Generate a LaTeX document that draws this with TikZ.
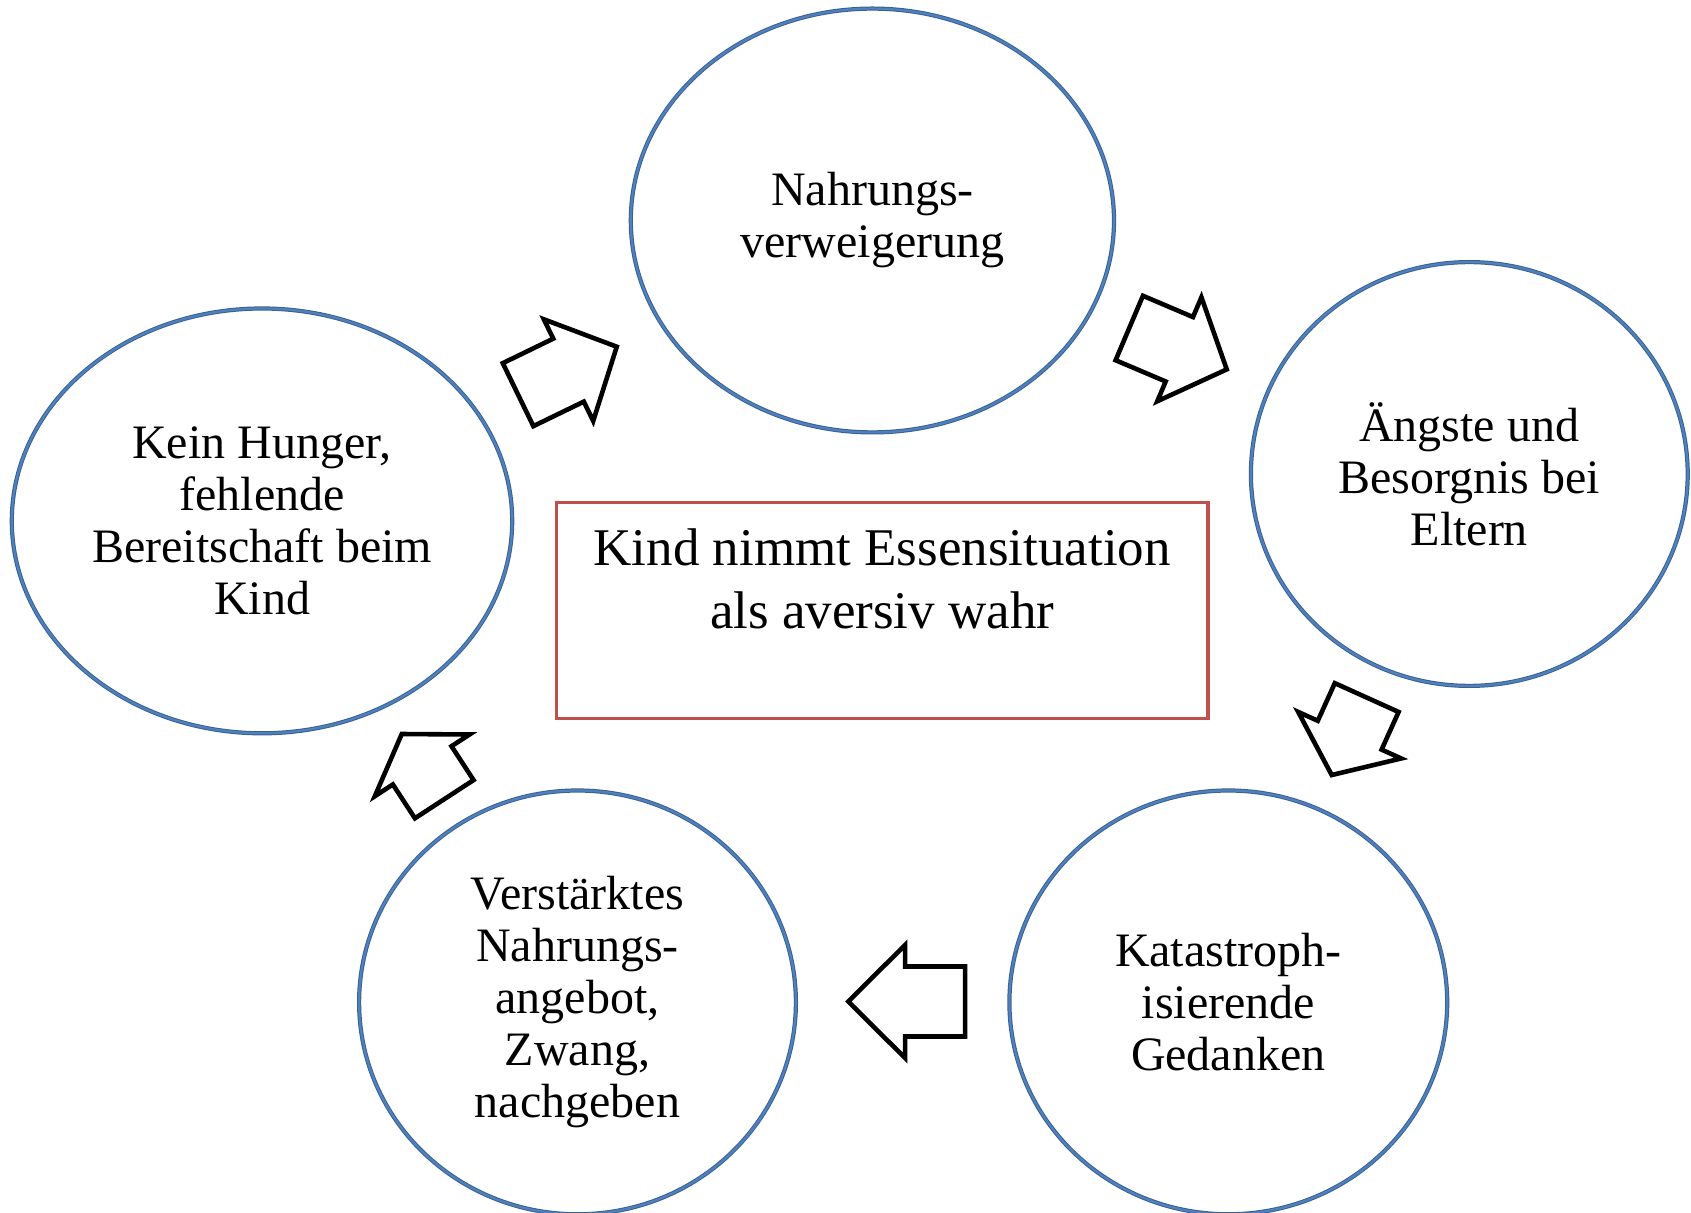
\documentclass[tikz,border=0pt]{standalone}
\usepackage{fontspec}
\setmainfont{Liberation Serif}
\usetikzlibrary{shapes.geometric}
\definecolor{elldark}{RGB}{58,96,145}
\definecolor{elllight}{RGB}{79,129,189}
\definecolor{boxred}{RGB}{192,80,77}
\tikzset{
  ell/.style={draw=elldark, line width=0.5pt, double=elllight, double distance=1.1pt,
    ellipse, inner sep=0pt, align=center, font=\fontsize{24}{26}\selectfont},
  redbox/.style={draw=boxred, line width=1.6pt, rectangle, inner sep=0pt},
  boxtext/.style={align=center, font=\fontsize{26.5}{31.8}\selectfont},
  blockarrow/.style={draw=black, line width=2.3pt, line join=miter, fill=white}
}
% #1 cx, #2 cy, #3 angle, #4 length, #5 head length
\newcommand{\blockarr}[5]{%
  \draw[blockarrow, shift={(#1,#2)}, rotate=#3]
    ({-#4/2},-35) -- ({#4/2-#5},-35) -- ({#4/2-#5},-56.5) -- ({#4/2},0)
    -- ({#4/2-#5},56.5) -- ({#4/2-#5},35) -- ({-#4/2},35) -- cycle;}
\begin{document}
\begin{tikzpicture}[x=0.5pt,y=-0.5pt]
\useasboundingbox (0,0) rectangle (1691,1213);
\node[ell, minimum width=241.6pt, minimum height=211.9pt] (top) at (872.4,220.5) {Nahrungs-\\verweigerung};
\node[ell, minimum width=218.4pt, minimum height=211.9pt] (right) at (1469.3,474.0) {Ängste und\\Besorgnis bei\\Eltern};
\node[ell, minimum width=218.9pt, minimum height=211.9pt] (bright) at (1228.3,1002.4) {Katastroph-\\isierende\\Gedanken};
\node[ell, minimum width=218.4pt, minimum height=211.9pt] (bleft) at (577.5,1002.4) {Verstärktes\\Nahrungs-\\angebot,\\Zwang,\\nachgeben};
\node[ell, minimum width=250.2pt, minimum height=212.4pt] (left) at (262.0,520.9) {Kein Hunger,\\fehlende\\Bereitschaft beim\\Kind};
\node[redbox, minimum width=325.7pt, minimum height=107.9pt] (box) at (882.2,610.4) {};
\node[boxtext] (boxlabel) at (882.2,579) {Kind nimmt Essensituation\\als aversiv wahr};
\blockarr{567.4}{370.7}{25.9}{109.7}{53.6}
\blockarr{1178}{348.7}{-23}{105.9}{51.5}
\blockarr{1349.2}{736.3}{-114.3}{85}{43.7}
\blockarr{906.7}{1001.5}{180}{116.7}{56.7}
\blockarr{423}{766.6}{123.1}{77.8}{37.4}
\end{tikzpicture}
\end{document}
